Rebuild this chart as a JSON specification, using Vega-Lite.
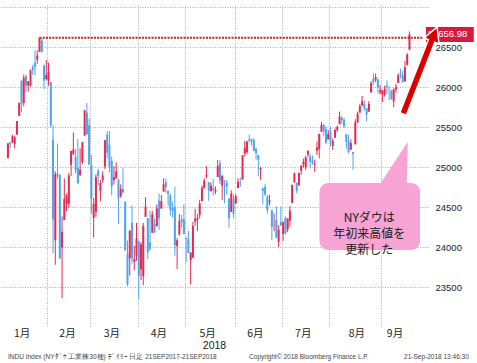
{
  "$schema": "https://vega.github.io/schema/vega-lite/v6.json",
  "width": 428,
  "height": 321,
  "autosize": {"type": "none"},
  "padding": {"left": 0, "top": 5, "right": 49, "bottom": 37},
  "background": "white",
  "config": {
    "view": {"stroke": null},
    "axis": {"labelFont": "Liberation Sans", "titleFont": "Liberation Sans"}
  },
  "data": {"values": [{}]},
  "datasets": {
    "dji": [
      {"i":0,"d":"2018-01-05","o":25115,"h":25296,"l":25105,"c":25295},
      {"i":1,"d":"2018-01-08","o":25308,"h":25311,"l":25236,"c":25283},
      {"i":2,"d":"2018-01-09","o":25312,"h":25404,"l":25300,"c":25386},
      {"i":3,"d":"2018-01-10","o":25290,"h":25389,"l":25233,"c":25370},
      {"i":4,"d":"2018-01-11","o":25405,"h":25575,"l":25405,"c":25575},
      {"i":5,"d":"2018-01-12","o":25638,"h":25804,"l":25638,"c":25803},
      {"i":6,"d":"2018-01-16","o":26072,"h":26086,"l":25682,"c":25792},
      {"i":7,"d":"2018-01-17","o":25800,"h":26154,"l":25759,"c":26116},
      {"i":8,"d":"2018-01-18","o":26134,"h":26153,"l":25931,"c":26017},
      {"i":9,"d":"2018-01-19","o":26020,"h":26072,"l":25942,"c":26072},
      {"i":10,"d":"2018-01-22","o":26026,"h":26215,"l":26006,"c":26214},
      {"i":11,"d":"2018-01-23","o":26249,"h":26278,"l":26154,"c":26211},
      {"i":12,"d":"2018-01-24","o":26304,"h":26458,"l":26142,"c":26253},
      {"i":13,"d":"2018-01-25","o":26342,"h":26458,"l":26290,"c":26392},
      {"i":14,"d":"2018-01-26","o":26440,"h":26617,"l":26440,"c":26617},
      {"i":15,"d":"2018-01-29","o":26580,"h":26609,"l":26432,"c":26439},
      {"i":16,"d":"2018-01-30","o":26268,"h":26281,"l":25973,"c":26077},
      {"i":17,"d":"2018-01-31","o":26100,"h":26338,"l":26083,"c":26149},
      {"i":18,"d":"2018-02-01","o":26084,"h":26306,"l":26014,"c":26187},
      {"i":19,"d":"2018-02-02","o":26062,"h":26062,"l":25490,"c":25521},
      {"i":20,"d":"2018-02-05","o":25338,"h":25520,"l":23924,"c":24346},
      {"i":21,"d":"2018-02-06","o":24085,"h":24946,"l":23778,"c":24913},
      {"i":22,"d":"2018-02-07","o":24916,"h":25293,"l":24853,"c":24893},
      {"i":23,"d":"2018-02-08","o":24903,"h":24903,"l":23849,"c":23861},
      {"i":24,"d":"2018-02-09","o":23993,"h":24383,"l":23360,"c":24191},
      {"i":25,"d":"2018-02-12","o":24337,"h":24860,"l":24337,"c":24601},
      {"i":26,"d":"2018-02-13","o":24541,"h":24667,"l":24446,"c":24640},
      {"i":27,"d":"2018-02-14","o":24535,"h":24925,"l":24490,"c":24893},
      {"i":28,"d":"2018-02-15","o":25027,"h":25203,"l":24888,"c":25201},
      {"i":29,"d":"2018-02-16","o":25165,"h":25432,"l":25149,"c":25219},
      {"i":30,"d":"2018-02-20","o":25124,"h":25225,"l":24920,"c":24965},
      {"i":31,"d":"2018-02-21","o":24991,"h":25350,"l":24789,"c":24798},
      {"i":32,"d":"2018-02-22","o":24898,"h":25233,"l":24890,"c":24963},
      {"i":33,"d":"2018-02-23","o":25059,"h":25310,"l":25039,"c":25310},
      {"i":34,"d":"2018-02-26","o":25392,"h":25709,"l":25392,"c":25709},
      {"i":35,"d":"2018-02-27","o":25679,"h":25800,"l":25404,"c":25410},
      {"i":36,"d":"2018-02-28","o":25525,"h":25606,"l":25029,"c":25029},
      {"i":37,"d":"2018-03-01","o":25025,"h":25150,"l":24417,"c":24608},
      {"i":38,"d":"2018-03-02","o":24365,"h":24613,"l":24117,"c":24538},
      {"i":39,"d":"2018-03-05","o":24441,"h":24909,"l":24377,"c":24874},
      {"i":40,"d":"2018-03-06","o":24953,"h":24977,"l":24768,"c":24884},
      {"i":41,"d":"2018-03-07","o":24702,"h":24838,"l":24570,"c":24801},
      {"i":42,"d":"2018-03-08","o":24836,"h":24948,"l":24802,"c":24895},
      {"i":43,"d":"2018-03-09","o":25005,"h":25336,"l":24974,"c":25336},
      {"i":44,"d":"2018-03-12","o":25407,"h":25450,"l":25106,"c":25179},
      {"i":45,"d":"2018-03-13","o":25276,"h":25450,"l":24933,"c":25008},
      {"i":46,"d":"2018-03-14","o":25074,"h":25130,"l":24646,"c":24759},
      {"i":47,"d":"2018-03-15","o":24837,"h":25011,"l":24780,"c":24873},
      {"i":48,"d":"2018-03-16","o":24857,"h":25058,"l":24857,"c":24947},
      {"i":49,"d":"2018-03-19","o":24846,"h":24846,"l":24285,"c":24611},
      {"i":50,"d":"2018-03-20","o":24637,"h":24783,"l":24614,"c":24727},
      {"i":51,"d":"2018-03-21","o":24726,"h":24982,"l":24674,"c":24683},
      {"i":52,"d":"2018-03-22","o":24568,"h":24568,"l":23956,"c":23958},
      {"i":53,"d":"2018-03-23","o":23917,"h":24082,"l":23509,"c":23533},
      {"i":54,"d":"2018-03-26","o":23858,"h":24211,"l":23642,"c":24202},
      {"i":55,"d":"2018-03-27","o":24300,"h":24520,"l":23793,"c":23857},
      {"i":56,"d":"2018-03-28","o":23816,"h":24016,"l":23707,"c":23849},
      {"i":57,"d":"2018-03-29","o":23888,"h":24304,"l":23827,"c":24103},
      {"i":58,"d":"2018-04-02","o":24076,"h":24076,"l":23344,"c":23644},
      {"i":59,"d":"2018-04-03","o":23719,"h":24060,"l":23586,"c":24033},
      {"i":60,"d":"2018-04-04","o":23636,"h":24302,"l":23523,"c":24264},
      {"i":61,"d":"2018-04-05","o":24378,"h":24622,"l":24378,"c":24505},
      {"i":62,"d":"2018-04-06","o":24360,"h":24361,"l":23849,"c":23933},
      {"i":63,"d":"2018-04-09","o":24058,"h":24454,"l":23953,"c":23979},
      {"i":64,"d":"2018-04-10","o":24177,"h":24452,"l":24177,"c":24408},
      {"i":65,"d":"2018-04-11","o":24288,"h":24354,"l":24171,"c":24189},
      {"i":66,"d":"2018-04-12","o":24259,"h":24532,"l":24259,"c":24483},
      {"i":67,"d":"2018-04-13","o":24580,"h":24668,"l":24216,"c":24360},
      {"i":68,"d":"2018-04-16","o":24480,"h":24650,"l":24480,"c":24573},
      {"i":69,"d":"2018-04-17","o":24692,"h":24858,"l":24692,"c":24786},
      {"i":70,"d":"2018-04-18","o":24810,"h":24858,"l":24680,"c":24748},
      {"i":71,"d":"2018-04-19","o":24703,"h":24703,"l":24511,"c":24665},
      {"i":72,"d":"2018-04-20","o":24643,"h":24665,"l":24392,"c":24463},
      {"i":73,"d":"2018-04-23","o":24488,"h":24567,"l":24368,"c":24448},
      {"i":74,"d":"2018-04-24","o":24495,"h":24751,"l":23891,"c":24024},
      {"i":75,"d":"2018-04-25","o":24012,"h":24112,"l":23724,"c":24084},
      {"i":76,"d":"2018-04-26","o":24157,"h":24411,"l":24143,"c":24322},
      {"i":77,"d":"2018-04-27","o":24348,"h":24400,"l":24243,"c":24311},
      {"i":78,"d":"2018-04-30","o":24346,"h":24535,"l":24160,"c":24163},
      {"i":79,"d":"2018-05-01","o":24117,"h":24117,"l":23808,"c":24100},
      {"i":80,"d":"2018-05-02","o":24098,"h":24200,"l":23924,"c":23925},
      {"i":81,"d":"2018-05-03","o":23836,"h":23936,"l":23531,"c":23930},
      {"i":82,"d":"2018-05-04","o":23866,"h":24314,"l":23866,"c":24263},
      {"i":83,"d":"2018-05-07","o":24317,"h":24479,"l":24263,"c":24357},
      {"i":84,"d":"2018-05-08","o":24341,"h":24412,"l":24198,"c":24361},
      {"i":85,"d":"2018-05-09","o":24399,"h":24591,"l":24355,"c":24543},
      {"i":86,"d":"2018-05-10","o":24574,"h":24768,"l":24574,"c":24740},
      {"i":87,"d":"2018-05-11","o":24734,"h":24859,"l":24734,"c":24831},
      {"i":88,"d":"2018-05-14","o":24880,"h":25011,"l":24857,"c":24899},
      {"i":89,"d":"2018-05-15","o":24811,"h":24811,"l":24577,"c":24706},
      {"i":90,"d":"2018-05-16","o":24697,"h":24807,"l":24697,"c":24769},
      {"i":91,"d":"2018-05-17","o":24738,"h":24850,"l":24643,"c":24714},
      {"i":92,"d":"2018-05-18","o":24696,"h":24758,"l":24661,"c":24715},
      {"i":93,"d":"2018-05-21","o":24875,"h":25087,"l":24875,"c":25013},
      {"i":94,"d":"2018-05-22","o":25047,"h":25086,"l":24788,"c":24834},
      {"i":95,"d":"2018-05-23","o":24765,"h":24900,"l":24590,"c":24887},
      {"i":96,"d":"2018-05-24","o":24830,"h":24830,"l":24546,"c":24812},
      {"i":97,"d":"2018-05-25","o":24802,"h":24838,"l":24655,"c":24753},
      {"i":98,"d":"2018-05-29","o":24606,"h":24606,"l":24241,"c":24362},
      {"i":99,"d":"2018-05-30","o":24437,"h":24708,"l":24437,"c":24668},
      {"i":100,"d":"2018-05-31","o":24601,"h":24655,"l":24364,"c":24416},
      {"i":101,"d":"2018-06-01","o":24542,"h":24660,"l":24542,"c":24635},
      {"i":102,"d":"2018-06-04","o":24736,"h":24858,"l":24736,"c":24814},
      {"i":103,"d":"2018-06-05","o":24808,"h":24873,"l":24750,"c":24799},
      {"i":104,"d":"2018-06-06","o":24842,"h":25149,"l":24842,"c":25146},
      {"i":105,"d":"2018-06-07","o":25170,"h":25327,"l":25131,"c":25241},
      {"i":106,"d":"2018-06-08","o":25186,"h":25328,"l":25161,"c":25317},
      {"i":107,"d":"2018-06-11","o":25345,"h":25402,"l":25305,"c":25323},
      {"i":108,"d":"2018-06-12","o":25347,"h":25354,"l":25268,"c":25320},
      {"i":109,"d":"2018-06-13","o":25335,"h":25361,"l":25197,"c":25201},
      {"i":110,"d":"2018-06-14","o":25226,"h":25244,"l":25094,"c":25175},
      {"i":111,"d":"2018-06-15","o":25150,"h":25150,"l":24883,"c":25090},
      {"i":112,"d":"2018-06-18","o":24971,"h":25003,"l":24840,"c":24988},
      {"i":113,"d":"2018-06-19","o":24737,"h":24737,"l":24532,"c":24701},
      {"i":114,"d":"2018-06-20","o":24751,"h":24792,"l":24637,"c":24657},
      {"i":115,"d":"2018-06-21","o":24631,"h":24649,"l":24418,"c":24462},
      {"i":116,"d":"2018-06-22","o":24562,"h":24653,"l":24522,"c":24581},
      {"i":117,"d":"2018-06-25","o":24457,"h":24465,"l":24084,"c":24253},
      {"i":118,"d":"2018-06-26","o":24282,"h":24420,"l":24196,"c":24284},
      {"i":119,"d":"2018-06-27","o":24335,"h":24507,"l":24110,"c":24117},
      {"i":120,"d":"2018-06-28","o":24066,"h":24273,"l":23998,"c":24216},
      {"i":121,"d":"2018-06-29","o":24312,"h":24509,"l":24262,"c":24271},
      {"i":122,"d":"2018-07-02","o":24161,"h":24323,"l":24077,"c":24307},
      {"i":123,"d":"2018-07-03","o":24362,"h":24384,"l":24154,"c":24175},
      {"i":124,"d":"2018-07-05","o":24220,"h":24357,"l":24184,"c":24357},
      {"i":125,"d":"2018-07-06","o":24331,"h":24510,"l":24256,"c":24456},
      {"i":126,"d":"2018-07-09","o":24552,"h":24778,"l":24552,"c":24777},
      {"i":127,"d":"2018-07-10","o":24808,"h":24934,"l":24808,"c":24920},
      {"i":128,"d":"2018-07-11","o":24805,"h":24805,"l":24671,"c":24700},
      {"i":129,"d":"2018-07-12","o":24770,"h":24932,"l":24770,"c":24925},
      {"i":130,"d":"2018-07-13","o":24952,"h":25021,"l":24902,"c":25019},
      {"i":131,"d":"2018-07-16","o":25031,"h":25105,"l":24993,"c":25064},
      {"i":132,"d":"2018-07-17","o":24994,"h":25141,"l":24965,"c":25120},
      {"i":133,"d":"2018-07-18","o":25155,"h":25211,"l":25127,"c":25199},
      {"i":134,"d":"2018-07-19","o":25133,"h":25160,"l":24981,"c":25065},
      {"i":135,"d":"2018-07-20","o":25078,"h":25142,"l":25028,"c":25058},
      {"i":136,"d":"2018-07-23","o":25029,"h":25093,"l":24936,"c":25044},
      {"i":137,"d":"2018-07-24","o":25205,"h":25317,"l":25150,"c":25242},
      {"i":138,"d":"2018-07-25","o":25224,"h":25414,"l":25107,"c":25415},
      {"i":139,"d":"2018-07-26","o":25438,"h":25562,"l":25438,"c":25527},
      {"i":140,"d":"2018-07-27","o":25527,"h":25534,"l":25386,"c":25451},
      {"i":141,"d":"2018-07-30","o":25470,"h":25508,"l":25285,"c":25307},
      {"i":142,"d":"2018-07-31","o":25344,"h":25464,"l":25344,"c":25415},
      {"i":143,"d":"2018-08-01","o":25438,"h":25507,"l":25257,"c":25333},
      {"i":144,"d":"2018-08-02","o":25267,"h":25357,"l":25213,"c":25327},
      {"i":145,"d":"2018-08-03","o":25366,"h":25483,"l":25366,"c":25463},
      {"i":146,"d":"2018-08-06","o":25462,"h":25519,"l":25436,"c":25502},
      {"i":147,"d":"2018-08-07","o":25535,"h":25692,"l":25535,"c":25629},
      {"i":148,"d":"2018-08-08","o":25612,"h":25641,"l":25540,"c":25584},
      {"i":149,"d":"2018-08-09","o":25586,"h":25613,"l":25487,"c":25509},
      {"i":150,"d":"2018-08-10","o":25411,"h":25411,"l":25228,"c":25313},
      {"i":151,"d":"2018-08-13","o":25317,"h":25400,"l":25169,"c":25187},
      {"i":152,"d":"2018-08-14","o":25216,"h":25345,"l":25216,"c":25299},
      {"i":153,"d":"2018-08-15","o":25186,"h":25186,"l":24965,"c":25162},
      {"i":154,"d":"2018-08-16","o":25283,"h":25597,"l":25283,"c":25559},
      {"i":155,"d":"2018-08-17","o":25557,"h":25692,"l":25550,"c":25669},
      {"i":156,"d":"2018-08-20","o":25680,"h":25790,"l":25680,"c":25759},
      {"i":157,"d":"2018-08-21","o":25767,"h":25888,"l":25767,"c":25822},
      {"i":158,"d":"2018-08-22","o":25787,"h":25834,"l":25702,"c":25733},
      {"i":159,"d":"2018-08-23","o":25734,"h":25735,"l":25570,"c":25657},
      {"i":160,"d":"2018-08-24","o":25692,"h":25824,"l":25692,"c":25790},
      {"i":161,"d":"2018-08-27","o":25932,"h":26074,"l":25932,"c":26049},
      {"i":162,"d":"2018-08-28","o":26101,"h":26167,"l":26027,"c":26065},
      {"i":163,"d":"2018-08-29","o":26093,"h":26168,"l":26059,"c":26125},
      {"i":164,"d":"2018-08-30","o":26095,"h":26105,"l":25918,"c":25987},
      {"i":165,"d":"2018-08-31","o":25931,"h":26027,"l":25904,"c":25965},
      {"i":166,"d":"2018-09-04","o":25916,"h":25964,"l":25811,"c":25953},
      {"i":167,"d":"2018-09-05","o":25902,"h":26017,"l":25880,"c":25975},
      {"i":168,"d":"2018-09-06","o":26017,"h":26080,"l":25910,"c":25996},
      {"i":169,"d":"2018-09-07","o":25918,"h":26007,"l":25835,"c":25917},
      {"i":170,"d":"2018-09-10","o":25953,"h":25963,"l":25838,"c":25857},
      {"i":171,"d":"2018-09-11","o":25821,"h":25983,"l":25749,"c":25972},
      {"i":172,"d":"2018-09-12","o":25969,"h":26039,"l":25930,"c":25999},
      {"i":173,"d":"2018-09-13","o":26050,"h":26170,"l":26050,"c":26145},
      {"i":174,"d":"2018-09-14","o":26171,"h":26229,"l":26106,"c":26155},
      {"i":175,"d":"2018-09-17","o":26151,"h":26205,"l":26054,"c":26062},
      {"i":176,"d":"2018-09-18","o":26070,"h":26325,"l":26070,"c":26246},
      {"i":177,"d":"2018-09-19","o":26277,"h":26424,"l":26268,"c":26406},
      {"i":178,"d":"2018-09-20","o":26466,"h":26695,"l":26466,"c":26657}
    ],
    "months": [
      {"m":"1月","mid":6.3},
      {"m":"2月","mid":26.4},
      {"m":"3月","mid":46.1},
      {"m":"4月","mid":66.9},
      {"m":"5月","mid":88.5},
      {"m":"6月","mid":109.7},
      {"m":"7月","mid":130.9},
      {"m":"8月","mid":154.7},
      {"m":"9月","mid":171.6}
    ]
  },
  "layer": [
    {
      "data": {"name": "dji"},
      "mark": {"type": "rule", "strokeWidth": 1},
      "encoding": {
        "x": {
          "field": "i", "type": "quantitative",
          "scale": {"domain": [-1.3, 184], "nice": false, "zero": false},
          "axis": {
            "values": [17.5, 36.5, 57.5, 78.5, 100.5, 121.5, 142.5, 165.5],
            "grid": true, "gridColor": "#aaaaaa", "gridDash": [1, 1.5], "gridWidth": 1,
            "labels": false, "ticks": false, "domain": false,
            "title": "2018", "titleFontSize": 10.5, "titleFontWeight": "normal",
            "titleColor": "#222222", "titlePadding": 14
          }
        },
        "y": {
          "field": "l", "type": "quantitative",
          "scale": {"domain": [23012.5, 27025], "nice": false, "zero": false},
          "axis": {
            "orient": "right",
            "values": [23500, 24000, 24500, 25000, 25500, 26000, 26500, 27000],
            "labelExpr": "datum.value > 26900 ? '' : format(datum.value, 'd')",
            "grid": true, "gridColor": "#aaaaaa", "gridDash": [1, 1.5], "gridWidth": 1,
            "ticks": false, "domain": false, "labelPadding": 7,
            "labelFontSize": 9.5, "labelColor": "#222222", "title": null
          }
        },
        "y2": {"field": "h"},
        "color": {
          "condition": {"test": "datum.c >= datum.o", "value": "#e52b50"},
          "value": "#4fa3ef"
        }
      }
    },
    {
      "data": {"name": "dji"},
      "mark": {"type": "bar", "size": 2},
      "encoding": {
        "x": {"field": "i", "type": "quantitative"},
        "y": {"field": "o", "type": "quantitative"},
        "y2": {"field": "c"},
        "color": {
          "condition": {"test": "datum.c >= datum.o", "value": "#e52b50"},
          "value": "#4fa3ef"
        }
      }
    },
    {
      "mark": {"type": "rule", "color": "#d01818", "strokeWidth": 2, "strokeDash": [2, 1.2]},
      "encoding": {
        "x": {"datum": 14, "type": "quantitative"},
        "x2": {"datum": 184},
        "y": {"datum": 26616.71, "type": "quantitative"}
      }
    },
    {
      "mark": {"type": "point", "shape": "M0.682,-1L-0.636,1L0.636,1Z", "size": 1936, "filled": true, "opacity": 1, "color": "#f7a3d3", "strokeWidth": 0},
      "encoding": {
        "x": {"datum": 170.59, "type": "quantitative"},
        "y": {"datum": 25037.5, "type": "quantitative"}
      }
    },
    {
      "mark": {"type": "rect", "color": "#f7a3d3", "cornerRadius": 9},
      "encoding": {
        "x": {"datum": 138.1, "type": "quantitative"},
        "x2": {"datum": 182.7},
        "y": {"datum": 24800, "type": "quantitative"},
        "y2": {"datum": 23962.5}
      }
    },
    {
      "mark": {"type": "text", "text": ["NYダウは", "年初来高値を", "更新した"], "lineHeight": 16, "font": "Noto Sans CJK JP", "fontSize": 12, "color": "#222222", "align": "center", "baseline": "middle"},
      "encoding": {
        "x": {"datum": 160.2, "type": "quantitative"},
        "y": {"datum": 24362.5, "type": "quantitative"}
      }
    },
    {
      "mark": {"type": "rect", "color": "#d8193f"},
      "encoding": {
        "x": {"datum": 185.3, "type": "quantitative"},
        "x2": {"datum": 206.5},
        "y": {"datum": 26750, "type": "quantitative"},
        "y2": {"datum": 26562.5}
      }
    },
    {
      "mark": {"type": "text", "text": "26656.98", "font": "Liberation Sans", "fontSize": 9.5, "color": "white", "align": "left", "baseline": "middle"},
      "encoding": {
        "x": {"datum": 186.1, "type": "quantitative"},
        "y": {"datum": 26656.98, "type": "quantitative"}
      }
    },
    {
      "mark": {"type": "point", "shape": "M-0.405,0.855L-0.275,0.905L0.296,-0.555L0.38,-0.522L0.34,-0.86L0.082,-0.639L0.166,-0.606Z", "size": 10000, "filled": true, "opacity": 1, "fill": "#d90000", "stroke": "white", "strokeWidth": 1.5},
      "encoding": {
        "x": {"datum": 182.7, "type": "quantitative"},
        "y": {"datum": 26212.5, "type": "quantitative"}
      }
    },
    {
      "data": {"name": "months"},
      "mark": {"type": "text", "font": "Noto Sans CJK JP", "fontSize": 10.5, "color": "#222222", "align": "center", "baseline": "middle"},
      "encoding": {
        "x": {"field": "mid", "type": "quantitative"},
        "y": {"datum": 22912.5, "type": "quantitative"},
        "text": {"field": "m"}
      }
    },
    {
      "mark": {"type": "text", "text": "INDU Index (NYﾀﾞｳ 工業株30種) ﾃﾞｲﾘｰ    日足 21SEP2017-21SEP2018", "font": "Liberation Sans", "fontSize": 6.5, "color": "#444444", "align": "left", "baseline": "middle"},
      "encoding": {
        "x": {"datum": 0, "type": "quantitative"},
        "y": {"datum": 22625, "type": "quantitative"}
      }
    },
    {
      "mark": {"type": "text", "text": "Copyright© 2018 Bloomberg Finance L.P.", "font": "Liberation Sans", "fontSize": 6.5, "color": "#444444", "align": "left", "baseline": "middle"},
      "encoding": {
        "x": {"datum": 106.9, "type": "quantitative"},
        "y": {"datum": 22625, "type": "quantitative"}
      }
    },
    {
      "mark": {"type": "text", "text": "21-Sep-2018 13:46:30", "font": "Liberation Sans", "fontSize": 6.5, "color": "#444444", "align": "right", "baseline": "middle"},
      "encoding": {
        "x": {"datum": 204.3, "type": "quantitative"},
        "y": {"datum": 22625, "type": "quantitative"}
      }
    }
  ]
}
